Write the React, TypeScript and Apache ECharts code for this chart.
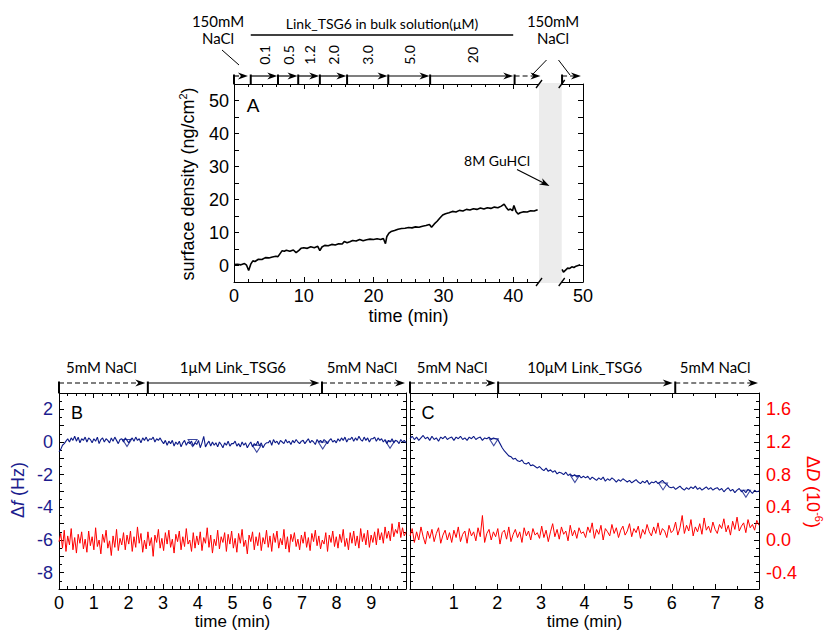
import React, { useEffect, useRef } from 'react';
import * as echarts from 'echarts';

// ---------- Panel A: surface density vs time ----------
const timeA = [
  0, 0.5, 1, 1.5, 1.8, 2.1, 2.4, 2.7, 3, 3.5,
  4, 4.5, 5, 5.5, 6, 6.3, 6.6, 6.9, 7.2, 7.5,
  8, 8.5, 8.9, 9.3, 9.6, 10, 10.5, 11, 11.5, 12,
  12.3, 12.6, 13, 13.5, 14, 14.5, 15, 15.5, 15.8, 16.2,
  16.6, 17, 17.5, 18, 18.5, 19, 19.5, 20, 20.5, 21,
  21.4, 21.7, 21.9, 22.2, 22.5, 23, 23.5, 24, 24.5, 25,
  25.5, 26, 26.5, 27, 27.5, 28, 28.3, 28.7, 29.1, 29.5,
  29.9, 30.3, 30.8, 31.3, 31.8, 32.3, 32.8, 33.3, 33.8, 34.3,
  34.8, 35.3, 35.8, 36.3, 36.8, 37.3, 37.8, 38.3, 38.7, 39.0,
  39.3, 39.6, 39.9, 40.1, 40.4, 40.7, 41.0, 41.5, 42, 42.5,
  43, 43.5,
];
const densityA = [
  0.3, 0.4, 0.2, 0.6, 0.1, -1.5, 0.4, 1.4, 1.2, 1.9,
  1.8, 2.4, 2.3, 2.6, 2.8, 2.7, 3.6, 4.5, 4.3, 4.6,
  4.3, 4.7, 3.9, 4.6, 5.2, 5.4, 5.2, 5.7, 5.4, 5.8,
  4.5, 5.6, 6.1, 6.0, 6.4, 6.2, 6.6, 6.5, 7.3, 6.9,
  7.2, 7.6, 7.4, 7.9, 7.5, 7.8, 8.0, 7.9, 8.1, 7.9,
  8.2, 6.6, 8.8, 9.8, 10.3, 10.6, 11.0, 11.2, 11.3, 11.5,
  11.4, 11.7, 11.6, 11.9, 12.1, 12.4, 11.6, 12.6, 13.4, 14.4,
  15.3, 15.7, 16.0, 16.4, 16.2, 16.7, 16.5, 17.0, 16.8, 17.2,
  17.0, 17.4, 17.1, 17.5, 17.3, 17.7, 17.5, 18.0, 18.6, 17.6,
  16.8, 17.1, 16.6, 18.2, 16.4, 15.6, 16.0, 16.3, 16.2, 16.6,
  16.5, 16.9,
];
const timeA2 = [47.0, 47.2, 47.5, 47.8, 48.1, 48.4, 48.7, 49.0, 49.3, 49.6];
const densityA2 = [-1.2, -2.0, -1.4, -0.8, -0.9, -0.4, -0.6, -0.2, 0.0, 0.2];
const guhclBand = [43.7, 46.95];
const segStartA = [0, 2.4, 6.3, 9.2, 12.3, 16.2, 22.1, 28.1, 40.2, 47.0];
const segEndA = [2.0, 6.2, 9.1, 12.2, 16.1, 22.0, 28.0, 40.0, 43.9, 49.7];
const segDashA = [true, false, false, false, false, false, false, false, true, true];
const concLabels = ['0.1', '0.5', '1.2', '2.0', '3.0', '5.0', '20'];

// ---------- Panel B: 1 µM Link_TSG6 (20 samples per minute) ----------
const dfB = [
  -0.6, -0.45, -0.2, -0.1, 0.05, 0.2, 0.0, 0.25, 0.1, 0.35, 0.05, 0.3, -0.05, 0.2, 0.1, 0.3, 0.0, 0.25, 0.15, -0.05,
  0.2, 0.05, 0.3, -0.1, 0.15, 0.25, 0.0, 0.2, 0.1, -0.05, 0.25, 0.05, 0.3, 0.1, -0.1, 0.15, 0.2, 0.0, 0.25, 0.1,
  -0.05, 0.15, 0.25, 0.05, 0.3, 0.1, 0.2, -0.05, 0.25, 0.1, 0.3, 0.05, 0.2, 0.15, 0.3, 0.0, 0.2, 0.1, 0.25, 0.05,
  -0.1, 0.1, -0.2, 0.05, -0.1, 0.1, -0.25, 0.0, -0.15, 0.05, -0.3, -0.05, 0.1, -0.2, 0.0, -0.1, 0.05, -0.25, -0.05, -0.15,
  0.1, -0.35, -0.05, 0.35, -0.3, -0.1, 0.05, -0.25, 0.0, -0.2, -0.05, -0.3, 0.0, -0.15, -0.35, -0.05, -0.2, 0.05, -0.25, -0.1,
  -0.1, 0.05, -0.25, -0.1, -0.3, 0.0, -0.2, -0.05, -0.35, -0.15, 0.0, -0.3, -0.1, -0.2, 0.05, -0.25, -0.05, -0.35, -0.15, -0.05,
  -0.05, 0.1, -0.2, 0.15, -0.05, 0.05, -0.15, 0.1, 0.0, -0.1, 0.15, -0.05, 0.05, -0.15, 0.1, -0.05, 0.15, 0.0, -0.1, 0.05,
  0.1, -0.1, 0.05, 0.2, -0.05, 0.1, 0.0, -0.15, 0.15, 0.0, 0.1, -0.05, 0.15, 0.05, -0.1, 0.1, 0.2, 0.0, 0.1, -0.05,
  0.2, 0.05, 0.25, 0.1, 0.3, 0.0, 0.2, 0.15, 0.3, 0.05, 0.25, 0.1, 0.35, 0.15, 0.05, 0.3, 0.1, 0.25, 0.0, 0.2,
  0.2, 0.3, 0.05, 0.25, 0.1, 0.2, 0.0, 0.15, -0.1, 0.1, 0.0, 0.2, -0.05, 0.1, 0.05, -0.1, 0.15, 0.0, 0.1, -0.05,
];
const dDB = [
  -0.02, 0.08, -0.1, 0.12, -0.14, 0.05, -0.06, 0.14, -0.12, 0.03, -0.16, 0.07, -0.04, 0.1, -0.11, 0.01, -0.15, 0.11, -0.07, 0.04,
  -0.12, 0.15, -0.08, 0.0, -0.17, 0.07, -0.03, 0.12, -0.1, -0.01, -0.19, 0.05, -0.09, 0.13, -0.13, 0.02, -0.06, 0.09, -0.12, 0.06,
  -0.05, 0.11, -0.14, 0.04, -0.09, 0.16, -0.04, 0.08, -0.15, 0.0, -0.11, 0.1, -0.07, 0.03, -0.2, 0.06, -0.03, 0.13, -0.1, 0.02,
  -0.13, 0.09, -0.05, 0.12, -0.09, 0.01, -0.16, 0.07, -0.02, 0.11, -0.12, 0.04, -0.08, 0.14, -0.05, 0.0, -0.14, 0.09, -0.1, 0.05,
  -0.06, 0.1, -0.13, 0.03, -0.04, 0.15, -0.09, 0.06, -0.16, 0.01, -0.07, 0.12, -0.11, 0.04, -0.03, 0.09, -0.14, 0.07, -0.05, 0.11,
  -0.1, 0.02, -0.15, 0.08, -0.04, 0.13, -0.08, 0.0, -0.17, 0.06, -0.02, 0.1, -0.12, 0.04, -0.07, 0.09, -0.13, 0.03, -0.05, 0.12,
  -0.09, 0.05, -0.14, 0.08, -0.03, 0.11, -0.1, 0.02, -0.06, 0.13, -0.11, 0.04, -0.15, 0.07, -0.02, 0.09, -0.08, 0.01, -0.12, 0.06,
  -0.04, 0.1, -0.09, 0.03, -0.13, 0.08, -0.02, 0.12, -0.07, 0.05, -0.11, 0.0, -0.05, 0.09, -0.14, 0.06, -0.03, 0.11, -0.08, 0.04,
  -0.1, 0.07, -0.03, 0.13, -0.08, 0.02, -0.12, 0.09, -0.04, 0.11, -0.07, 0.05, -0.1, 0.14, -0.02, 0.08, -0.06, 0.12, -0.09, 0.06,
  -0.03, 0.1, -0.06, 0.14, 0.0, 0.09, -0.04, 0.16, 0.02, 0.11, -0.01, 0.2, 0.04, 0.13, 0.08, 0.22, 0.03, 0.15, 0.05, 0.1,
];
const triTimeB = [1.96, 3.85, 5.7, 7.6, 9.54];
const triDfB = [0.15, 0.15, -0.2, 0.0, 0.05];
const phaseB = [0, 2.56, 7.58, 10];
const phaseLabelB = ['5mM NaCl', '1μM Link_TSG6', '5mM NaCl'];
const phaseDashB = [true, false, true];

// ---------- Panel C: 10 µM Link_TSG6 (20 samples per minute) ----------
const dfC = [
  0.2, 0.35, 0.15, 0.3, 0.1, 0.25, 0.4, 0.2, 0.3, 0.1, 0.35, 0.15, 0.25, 0.05, 0.3, 0.2, 0.35, 0.15, 0.25, 0.3,
  0.1, 0.3, 0.2, 0.35, 0.15, 0.25, 0.1, 0.3, 0.2, 0.35, 0.15, 0.25, 0.3, 0.1, 0.25, 0.2, 0.3, 0.15, 0.25, 0.2,
  0.15, -0.1, -0.35, -0.55, -0.7, -0.85, -0.9, -1.05, -1.0, -1.15, -1.2, -1.1, -1.3, -1.35, -1.25, -1.45, -1.4, -1.5, -1.6, -1.5,
  -1.65, -1.75, -1.6, -1.8, -1.7, -1.85, -1.75, -1.95, -1.85, -1.9, -2.0, -1.85, -2.05, -1.95, -2.1, -2.0, -2.15, -2.05, -2.2, -2.1,
  -2.2, -2.1, -2.3, -2.15, -2.25, -2.35, -2.2, -2.3, -2.15, -2.4, -2.25, -2.35, -2.2, -2.3, -2.45, -2.3, -2.4, -2.25, -2.35, -2.45,
  -2.35, -2.5, -2.4, -2.3, -2.45, -2.55, -2.4, -2.5, -2.35, -2.6, -2.45, -2.5, -2.4, -2.55, -2.45, -2.35, -2.5, -2.6, -2.75, -2.8,
  -2.75, -2.9, -2.8, -2.7, -2.85, -2.95, -2.8, -2.9, -2.75, -2.85, -2.7, -2.9, -2.8, -2.95, -2.85, -2.75, -2.9, -2.8, -2.95, -2.85,
  -2.8, -2.95, -2.85, -3.05, -2.9, -2.8, -3.0, -2.9, -3.1, -2.95, -2.85, -3.05, -2.95, -3.1, -2.9, -3.0, -3.15, -2.95, -3.05, -3.0,
];
const dDC = [
  0.05, 0.14, -0.03, 0.1, 0.0, 0.16, 0.04, -0.05, 0.11, 0.02, 0.13, -0.02, 0.08, 0.15, -0.04, 0.06, 0.12, 0.0, 0.09, -0.03,
  0.12, 0.03, 0.16, -0.02, 0.07, 0.11, -0.04, 0.14, 0.05, 0.1, -0.01, 0.15, 0.04, 0.3, -0.03, 0.08, 0.13, 0.0, 0.1, 0.04,
  0.14, -0.05, 0.09, 0.12, 0.01, 0.16, -0.02, 0.07, 0.13, 0.03, 0.1, -0.03, 0.15, 0.05, 0.11, 0.0, 0.14, 0.06, 0.09, 0.02,
  0.17, 0.03, 0.12, -0.02, 0.1, 0.2, 0.04, 0.13, 0.01, 0.16, 0.07, 0.11, -0.01, 0.18, 0.05, 0.12, 0.02, 0.15, 0.08, 0.1,
  0.03, 0.16, 0.09, 0.21, 0.02, 0.13, 0.07, 0.18, 0.0, 0.14, 0.1, 0.05, 0.19, 0.08, 0.15, 0.03, 0.12, 0.17, 0.06, 0.11,
  0.2, 0.04, 0.14, 0.09, 0.17, 0.02, 0.13, 0.07, 0.19, 0.1, 0.05, 0.16, 0.08, 0.21, 0.06, 0.14, 0.11, 0.03, 0.18, 0.09,
  0.12, 0.22, 0.06, 0.15, 0.3, 0.08, 0.18, 0.11, 0.25, 0.05, 0.16, 0.1, 0.2, 0.07, 0.27, 0.12, 0.17, 0.09, 0.22, 0.13,
  0.08, 0.19, 0.14, 0.26, 0.1, 0.18, 0.06, 0.23, 0.13, 0.28, 0.11, 0.17, 0.21, 0.09, 0.25, 0.15, 0.19, 0.12, 0.24, 0.18,
];
const triTimeC = [1.92, 3.78, 5.8, 7.7];
const triDfC = [0.2, -2.05, -2.5, -2.95];
const phaseC = [0, 2.02, 6.08, 8];
const phaseLabelC = ['5mM NaCl', '10μM Link_TSG6', '5mM NaCl'];
const phaseDashC = [true, false, true];

const FONT = "'Liberation Sans', Arial, sans-serif";
const CAL = "Lato, 'Noto Sans', sans-serif";
const NAVY = '#1c1c8e';
const TRACE = '#0c1a88';
const RED = '#ff0000';
const K = '#000';

const tick = { inside: true, length: 5, lineStyle: { color: K, width: 1 } };
const minor = (n: number) => ({ show: true, splitNumber: n, length: 3, lineStyle: { color: K, width: 1 } });
const aLine = { show: true, onZero: false, lineStyle: { color: K, width: 1 } };
const lbl = (extra: any) => ({ fontSize: 18, fontFamily: FONT, color: K, ...extra });

function xAxisDef(grid: number, min: number, max: number, interval: number, ms: number, top: boolean, gap = 24, nameSize = 18, fmt?: (v: number) => string) {
  const ax: any = {
    type: 'value', gridIndex: grid, min, max, interval, position: top ? 'top' : 'bottom',
    axisLine: aLine, axisTick: { show: true, ...tick }, minorTick: minor(ms),
    splitLine: { show: false }, minorSplitLine: { show: false },
    axisLabel: top ? { show: false } : lbl({ margin: 5, formatter: fmt }),
  };
  if (!top) {
    ax.name = 'time (min)';
    ax.nameLocation = 'middle';
    ax.nameGap = gap;
    ax.nameTextStyle = { fontSize: nameSize, fontFamily: FONT, color: K, lineHeight: nameSize + 1 };
  }
  return ax;
}

function yAxisDef(grid: number, min: number, max: number, interval: number, ms: number, right: boolean, label: any) {
  return {
    type: 'value', gridIndex: grid, min, max, interval, position: right ? 'right' : 'left',
    axisLine: aLine, axisTick: { show: true, ...tick }, minorTick: ms > 0 ? minor(ms) : { show: false },
    splitLine: { show: false }, minorSplitLine: { show: false },
    axisLabel: label ? label : { show: false },
  };
}

const fmtA = (v: number) => (Math.abs(v % 10) < 1e-9 && v >= 0 && v <= 50 ? String(v) : '');
const fmtDf = (v: number) => {
  const r = Math.round(v);
  return Math.abs(v - r) < 1e-9 && r % 2 === 0 && r >= -8 && r <= 2 ? String(r === 0 ? 0 : r) : '';
};
const fmtDD = (v: number) => {
  const k = Math.round(v * 10);
  if (k % 4 !== 0 || k < -4 || k > 16) return '';
  return k === 0 ? '0.0' : (k / 10).toFixed(1);
};

function buildOption(): any {
  return {
    animation: false,
    backgroundColor: '#fff',
    grid: [
      { left: 234, top: 84, width: 349, height: 198, outerBoundsMode: 'none' },
      { left: 59, top: 393, width: 347, height: 196, outerBoundsMode: 'none' },
      { left: 410, top: 393, width: 349, height: 196, outerBoundsMode: 'none' },
    ],
    xAxis: [
      xAxisDef(0, 0, 50, 10, 5, false, 24, 18),
      xAxisDef(0, 0, 50, 10, 5, true),
      xAxisDef(1, 0, 10, 1, 4, false, 17, 17, (v: number) => (v > 9.5 ? '' : String(v))),
      xAxisDef(1, 0, 10, 1, 4, true),
      xAxisDef(2, 0, 8, 1, 2, false, 17, 17, (v: number) => (v < 0.5 ? '' : String(v))),
      xAxisDef(2, 0, 8, 1, 2, true),
      { type: 'category', gridIndex: 1, show: false, boundaryGap: false },
      { type: 'category', gridIndex: 2, show: false, boundaryGap: false },
    ],
    yAxis: [
      yAxisDef(0, -5, 55, 5, 0, false, lbl({ margin: 5, formatter: fmtA })),
      yAxisDef(0, -5, 55, 5, 0, true, null),
      yAxisDef(1, -9, 3, 1, 2, false, lbl({ margin: 6, color: NAVY, formatter: fmtDf })),
      yAxisDef(1, -0.6, 1.8, 0.2, 2, true, null),
      yAxisDef(2, -9, 3, 1, 2, false, null),
      yAxisDef(2, -0.6, 1.8, 0.2, 2, true, lbl({ margin: 7, color: RED, formatter: fmtDD })),
    ],
    series: [
      {
        type: 'line', xAxisIndex: 0, yAxisIndex: 0, symbol: 'none', silent: true,
        data: timeA.map((t, i) => [t, densityA[i]]), lineStyle: { color: K, width: 1.6 },
      },
      {
        type: 'line', xAxisIndex: 0, yAxisIndex: 0, symbol: 'none', silent: true,
        data: timeA2.map((t, i) => [t, densityA2[i]]), lineStyle: { color: K, width: 1.6 },
      },
      {
        type: 'line', xAxisIndex: 6, yAxisIndex: 3, symbol: 'none', silent: true,
        data: dDB, lineStyle: { color: RED, width: 1 },
      },
      {
        type: 'line', xAxisIndex: 6, yAxisIndex: 2, symbol: 'none', silent: true,
        data: dfB, lineStyle: { color: TRACE, width: 1.1 },
      },
      {
        type: 'scatter', xAxisIndex: 2, yAxisIndex: 2, silent: true, symbol: 'triangle',
        symbolRotate: 180, symbolSize: [9, 7], symbolOffset: [0, 3.5],
        itemStyle: { color: 'rgba(0,0,0,0)', borderColor: TRACE, borderWidth: 1 },
        data: triTimeB.map((t, i) => [t, triDfB[i]]),
      },
      {
        type: 'line', xAxisIndex: 7, yAxisIndex: 5, symbol: 'none', silent: true,
        data: dDC, lineStyle: { color: RED, width: 1 },
      },
      {
        type: 'line', xAxisIndex: 7, yAxisIndex: 4, symbol: 'none', silent: true,
        data: dfC, lineStyle: { color: TRACE, width: 1.1 },
      },
      {
        type: 'scatter', xAxisIndex: 4, yAxisIndex: 4, silent: true, symbol: 'triangle',
        symbolRotate: 180, symbolSize: [9, 7], symbolOffset: [0, 3.5],
        itemStyle: { color: 'rgba(0,0,0,0)', borderColor: TRACE, borderWidth: 1 },
        data: triTimeC.map((t, i) => [t, triDfC[i]]),
      },
    ],
  };
}

function buildGraphic(chart: any): any[] {
  const g: any[] = [];
  const px = (ax: number, t: number) => chart.convertToPixel({ xAxisIndex: ax }, t) as number;
  const py = (ax: number, v: number) => chart.convertToPixel({ yAxisIndex: ax }, v) as number;
  const seg = (x1: number, y1: number, x2: number, y2: number, w = 1.2, dash = false, z = 20) =>
    g.push({
      type: 'line', silent: true, z, shape: { x1, y1, x2, y2 },
      style: { stroke: K, lineWidth: w, lineDash: dash ? [5, 3] : null },
    });
  const head = (xt: number, yt: number, ang = 0) => {
    const c = Math.cos(ang), s = Math.sin(ang);
    const p = (back: number, side: number) => [xt - back * c - side * s, yt - back * s + side * c];
    g.push({
      type: 'polygon', silent: true, z: 20,
      shape: { points: [[xt, yt], p(10, -3.5), p(7, 0), p(10, 3.5)] },
      style: { fill: K },
    });
  };
  const txt = (x: number, y: number, text: string, size: number, family: string, extra: any = {}) =>
    g.push({
      type: 'text', silent: true, z: 20, x, y, rotation: extra.rotation || 0,
      style: {
        text, fontSize: size, fontFamily: family, fill: extra.fill || K,
        align: 'center', verticalAlign: 'middle', rich: extra.rich,
      },
    });

  // ----- Panel A -----
  const topA = py(0, 55);
  const botA = py(0, -5);
  const yArr = 76;
  for (let i = 0; i < segStartA.length; i++) {
    const x0 = px(0, segStartA[i]);
    const x1 = px(0, segEndA[i]);
    seg(x0, yArr - 1.5, x0, topA, 2);
    seg(x0, yArr, x1 - 6, yArr, 1.2, segDashA[i]);
    head(x1, yArr);
  }
  for (let i = 0; i < concLabels.length; i++) {
    const xc = (px(0, segStartA[i + 1]) + px(0, segStartA[i + 2])) / 2;
    txt(xc, 55, concLabels[i], 14, CAL, { rotation: Math.PI / 2 });
  }
  const lx0 = px(0, segStartA[1]);
  const lx1 = px(0, segEndA[7]);
  seg(lx0, 35, lx1, 35, 1.6);
  txt((lx0 + lx1) / 2, 23, 'Link_TSG6 in bulk solution(μM)', 14, CAL);
  txt(218, 21, '150mM', 15, CAL);
  txt(218, 38, 'NaCl', 15, CAL);
  seg(222, 50, 239, 65, 1);
  txt(553, 21, '150mM', 15, CAL);
  txt(553, 38, 'NaCl', 15, CAL);
  seg(546.5, 60, 532, 75, 1);
  seg(558.5, 60, 570, 75, 1);

  const xa = px(0, guhclBand[0]);
  const xb = px(0, guhclBand[1]);
  g.push({
    type: 'rect', silent: true, z: 1,
    shape: { x: xa, y: topA - 1, width: xb - xa, height: botA - topA + 2 },
    style: { fill: '#ececec' },
  });
  [xa, xb].forEach((xe) => {
    [topA, botA].forEach((ye) => seg(xe - 3, ye + 4, xe + 3, ye - 4, 1.3));
  });
  txt(497, 160, '8M GuHCl', 14, CAL);
  const ax0 = 517, ay0 = 169.5, ax1 = 549.5, ay1 = 186;
  const ang = Math.atan2(ay1 - ay0, ax1 - ax0);
  seg(ax0, ay0, ax1 - 6 * Math.cos(ang), ay1 - 6 * Math.sin(ang), 1.2);
  head(ax1, ay1, ang);
  txt(253, 105, 'A', 19, FONT);

  // axis titles
  txt(188, 184, '{a|surface density (ng/cm}{s|2}{a|)}', 18, FONT, {
    rotation: Math.PI / 2,
    rich: {
      a: { fontSize: 18, fontFamily: FONT, fill: K, lineHeight: 22 },
      s: { fontSize: 11, fontFamily: FONT, fill: K, verticalAlign: 'top', lineHeight: 22 },
    },
  });
  txt(18, 490, '{a|Δ}{i|f}{a| (Hz)}', 18, FONT, {
    rotation: Math.PI / 2, fill: NAVY,
    rich: {
      a: { fontSize: 18, fontFamily: FONT, fill: NAVY },
      i: { fontSize: 18, fontFamily: FONT, fill: NAVY, fontStyle: 'italic' },
    },
  });
  txt(813, 492, '{a|Δ}{i|D}{a| (10}{s|-6}{a|)}', 18, FONT, {
    rotation: -Math.PI / 2, fill: RED,
    rich: {
      a: { fontSize: 18, fontFamily: FONT, fill: RED, lineHeight: 22 },
      i: { fontSize: 18, fontFamily: FONT, fill: RED, fontStyle: 'italic', lineHeight: 22 },
      s: { fontSize: 11, fontFamily: FONT, fill: RED, verticalAlign: 'top', lineHeight: 22 },
    },
  });

  // ----- Panels B & C headers -----
  const header = (ax: number, yax: number, phases: number[], labels: string[], dashes: boolean[]) => {
    const yH = 383;
    const yTop = py(yax, 3);
    for (let i = 0; i < labels.length; i++) {
      const x0 = px(ax, phases[i]);
      const x1 = px(ax, phases[i + 1]);
      const tip = i === labels.length - 1 ? x1 - 1 : x1 - 2.5;
      seg(x0, yH - 1.5, x0, yTop, 2);
      seg(x0, yH, tip - 6, yH, 1.2, dashes[i]);
      head(tip, yH);
      txt((x0 + x1) / 2 - 2, 367, labels[i], 15, CAL);
    }
  };
  header(2, 2, phaseB, phaseLabelB, phaseDashB);
  header(4, 4, phaseC, phaseLabelC, phaseDashC);
  txt(77, 413, 'B', 18, FONT);
  txt(428, 413, 'C', 18, FONT);
  return g;
}

export default function App() {
  const ref = useRef<HTMLDivElement>(null);
  useEffect(() => {
    if (!ref.current) return;
    const chart = echarts.init(ref.current, null, { renderer: 'svg' });
    chart.setOption(buildOption());
    chart.setOption({ graphic: buildGraphic(chart) });
    return () => chart.dispose();
  }, []);
  return (
    <div
      ref={ref}
      style={{ position: 'fixed', left: 0, top: 0, width: 829, height: 630, background: '#fff' }}
    />
  );
}
